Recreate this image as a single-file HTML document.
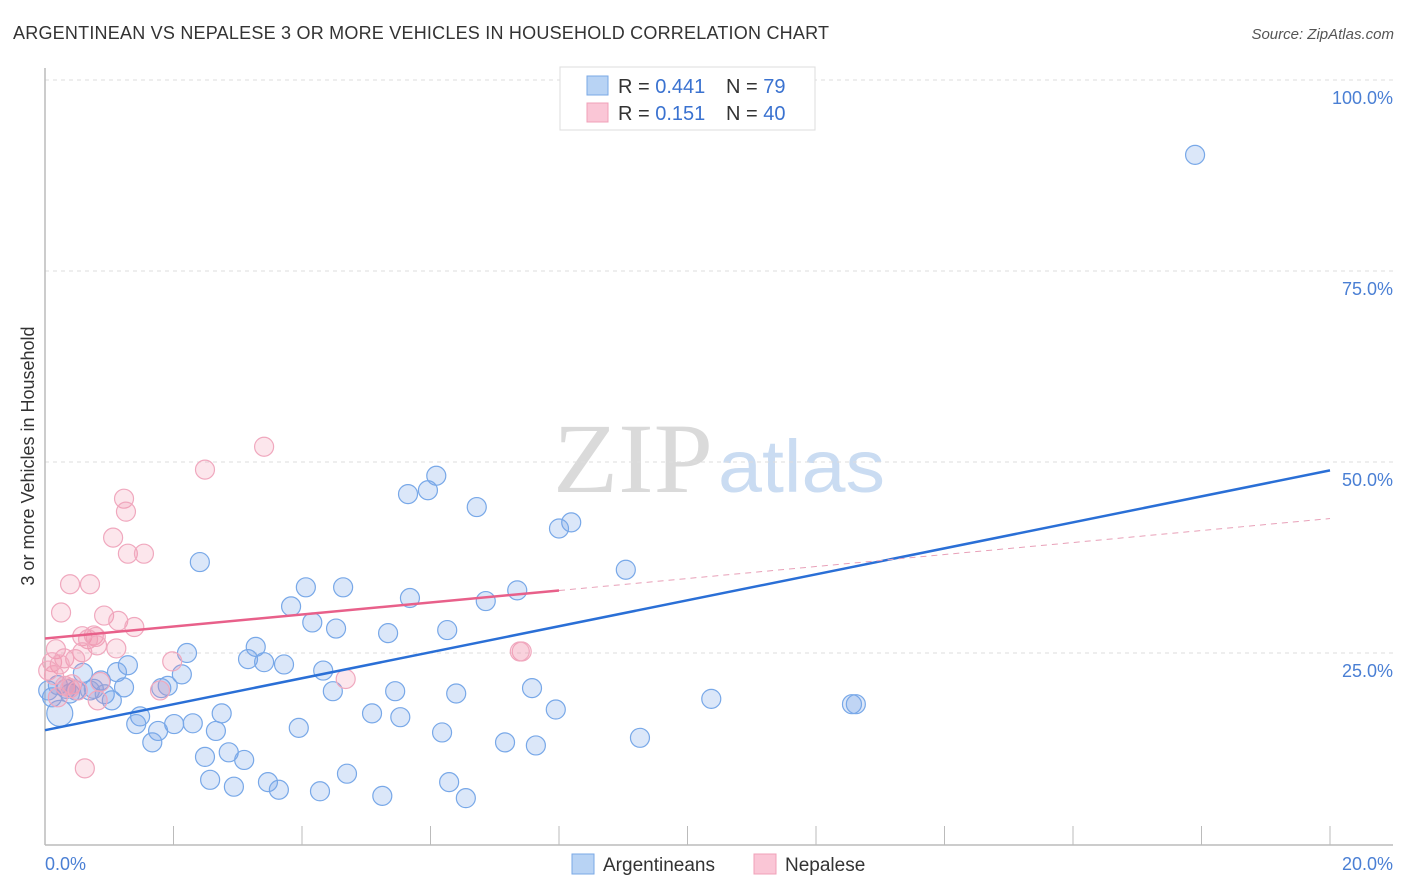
<!DOCTYPE html>
<html><head><meta charset="utf-8"><style>
body{margin:0;background:#fff;font-family:"Liberation Sans",sans-serif;}
svg{display:block}
</style></head><body>
<svg id="chart" width="1406" height="892" xmlns="http://www.w3.org/2000/svg">
<text x="13" y="39" font-size="18" fill="#333" textLength="816" lengthAdjust="spacing" font-family="Liberation Sans, sans-serif">ARGENTINEAN VS NEPALESE 3 OR MORE VEHICLES IN HOUSEHOLD CORRELATION CHART</text>
<text x="1394" y="39" font-size="15" fill="#555" font-style="italic" text-anchor="end">Source: ZipAtlas.com</text>
<g>
<text x="553" y="492" font-size="100" fill="#dadada" textLength="160" lengthAdjust="spacingAndGlyphs" font-family="Liberation Serif, serif">ZIP</text>
<text x="718" y="492" font-size="74" fill="#cadcf2" textLength="167" lengthAdjust="spacingAndGlyphs">atlas</text>
</g>
<text transform="translate(34,456) rotate(-90)" text-anchor="middle" font-size="18" fill="#333">3 or more Vehicles in Household</text>
<g id="grid"></g>
<g id="axes"></g>
<g id="pts"></g>
<g id="lines"></g>
<g>
<rect x="560" y="67" width="255" height="63" fill="#fff" stroke="#ddd"/>
<rect x="587" y="76" width="21" height="19" fill="#b8d3f4" stroke="#7aa8e6"/>
<rect x="587" y="103" width="21" height="19" fill="#fac6d6" stroke="#f0a0b8"/>
<text x="618" y="93" font-size="20" fill="#333">R = <tspan fill="#3a72d0">0.441</tspan></text>
<text x="726" y="93" font-size="20" fill="#333">N =  <tspan fill="#3a72d0">79</tspan></text>
<text x="618" y="120" font-size="20" fill="#333">R =  <tspan fill="#3a72d0">0.151</tspan></text>
<text x="726" y="120" font-size="20" fill="#333">N = <tspan fill="#3a72d0">40</tspan></text>
</g>
<g>
<rect x="572" y="854" width="22" height="20" fill="#b8d3f4" stroke="#7aa8e6"/>
<text x="603" y="871" font-size="19" fill="#333">Argentineans</text>
<rect x="754" y="854" width="22" height="20" fill="#fac6d6" stroke="#f0a0b8"/>
<text x="785" y="871" font-size="19" fill="#333">Nepalese</text>
</g>
</svg>
<script>
const xTicksLabels=["0.0%","20.0%"];
const yTickValues=[25,50,75,100];
const yTickLabels=["25.0%","50.0%","75.0%","100.0%"];
const blueX=[17.90,6.09,5.65,5.96,6.72,8.19,8.00,2.41,9.04,4.06,4.64,7.35,5.68,3.83,6.86,4.16,4.53,5.34,6.26,3.28,2.21,3.16,3.41,3.72,1.29,4.33,1.12,0.59,2.13,0.87,1.91,1.81,1.23,0.48,0.33,0.76,0.70,4.48,5.45,6.40,7.58,0.93,1.04,10.37,12.56,12.62,7.95,2.75,1.48,5.09,5.53,1.42,2.01,2.30,1.76,2.66,3.95,6.18,1.67,9.26,7.16,7.64,2.49,2.86,3.10,4.70,2.57,3.47,6.29,2.94,3.64,4.28,5.25,6.55,0.23,0.11,0.39,0.05,0.20];
const blueY=[90.2,48.2,45.8,46.3,44.1,42.1,41.3,36.9,35.9,33.6,33.6,33.2,32.2,31.1,31.8,29.0,28.2,27.6,28.0,25.8,25.0,24.2,23.8,23.5,23.4,22.7,22.5,22.4,22.2,21.4,20.7,20.4,20.5,20.1,20.3,20.3,20.1,20.0,20.0,19.7,20.4,19.6,18.8,19.0,18.3,18.3,17.6,17.1,16.7,17.1,16.6,15.7,15.7,15.8,14.8,14.8,15.2,14.6,13.3,13.9,13.3,12.9,11.4,12.0,11.0,9.2,8.4,8.1,8.1,7.5,7.1,6.9,6.3,6.0,17.1,19.2,19.7,20.1,20.8];
const pinkX=[3.41,2.49,1.23,1.26,1.06,1.29,1.54,0.39,0.70,0.25,0.92,1.14,1.39,0.58,0.76,0.79,0.67,1.11,0.81,0.17,0.58,0.11,0.30,0.47,0.23,1.98,0.14,0.86,1.79,0.31,0.42,0.82,4.68,7.42,7.39,0.62,0.20,0.39,0.05,0.51];
const pinkY=[52.0,49.0,45.2,43.5,40.1,38.0,38.0,34.0,34.0,30.3,29.9,29.2,28.4,27.2,27.3,27.1,26.8,25.6,26.0,25.5,25.1,23.8,24.3,24.2,23.5,23.9,22.1,21.2,20.1,20.7,20.9,18.8,21.6,25.2,25.2,9.9,19.2,20.4,22.7,20.1];
const blueTrend=[14.9,48.9];
const pinkTrend=[26.9,42.6];
const pinkSolidEnd=8.0;

const NS="http://www.w3.org/2000/svg";
const X=v=>45+v*64.25;
const Y=v=>844-v*7.64;
function mk(tag,attrs,parent){const e=document.createElementNS(NS,tag);for(const k in attrs)e.setAttribute(k,attrs[k]);document.getElementById(parent).appendChild(e);return e;}

yTickValues.forEach((v,i)=>{
  const g=mk('line',{x1:45,x2:1393,y1:Y(v),y2:Y(v),stroke:'#ddd','stroke-dasharray':'4,4'},'grid');
  
  
  const t=mk('text',{x:1393,y:Y(v)+24,'text-anchor':'end','font-size':18,fill:'#4a7fd4'},'grid');
  t.textContent=yTickLabels[i];
  
  
});
const ax=mk('line',{x1:45,x2:1393,y1:845,y2:845,stroke:'#bbb','stroke-width':1.5},'axes');


const ay=mk('line',{x1:45,x2:45,y1:68,y2:845,stroke:'#bbb','stroke-width':1.5},'axes');


for(let i=0;i<=10;i++){
  const tk=mk('line',{x1:X(i*2),x2:X(i*2),y1:826,y2:845,stroke:'#bbb'},'axes');
  
  
}
[[0,'start',45],[20,'end',1393]].forEach((a,i)=>{
  const t=mk('text',{x:a[2],y:870,'text-anchor':a[1],'font-size':18,fill:'#4a7fd4'},'axes');
  t.textContent=xTicksLabels[i];
  
  
});
blueX.forEach((x,i)=>{
  const r=(i===74)?13:9.5;
  const c=mk('circle',{cx:X(x),cy:Y(blueY[i]),r:r,fill:'rgba(110,160,230,0.25)',stroke:'#78a8e8','stroke-width':1.2},'pts');
  
  
});
pinkX.forEach((x,i)=>{
  const c=mk('circle',{cx:X(x),cy:Y(pinkY[i]),r:9.5,fill:'rgba(240,140,170,0.22)',stroke:'#f0a8be','stroke-width':1.2},'pts');
  
  
});
const bl=mk('line',{x1:X(0),y1:Y(blueTrend[0]),x2:X(20),y2:Y(blueTrend[1]),stroke:'#2a6fd6','stroke-width':2.5},'lines');


const pEnd=pinkTrend[0]+(pinkTrend[1]-pinkTrend[0])*pinkSolidEnd/20;
const pl=mk('line',{x1:X(0),y1:Y(pinkTrend[0]),x2:X(pinkSolidEnd),y2:Y(pEnd),stroke:'#e8608a','stroke-width':2.5},'lines');


const pd=mk('line',{x1:X(pinkSolidEnd),y1:Y(pEnd),x2:X(20),y2:Y(pinkTrend[1]),stroke:'#e8a0b8','stroke-width':1,'stroke-dasharray':'6,5'},'lines');


</script>
</body></html>
